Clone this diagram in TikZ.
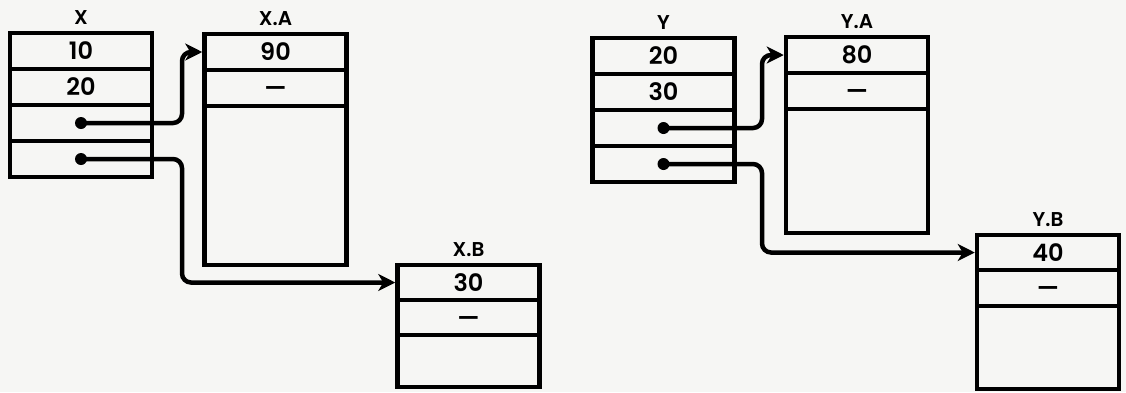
\documentclass[tikz,border=0pt]{standalone}
\usepackage{fontspec}
\setmainfont{Poppins}[BoldFont={Poppins SemiBold}]
\usetikzlibrary{arrows.meta,positioning}
\definecolor{paper}{RGB}{246,246,244}
\tikzset{
  cell/.style={draw, line width=4.5pt, minimum width=142pt, inner sep=0pt,
    text height=17pt, text depth=0pt,
    font=\fontsize{24}{24}\selectfont\bfseries},
  lbl/.style={font=\fontsize{20}{20}\selectfont\bfseries, inner sep=1pt},
  ptr/.style={line width=4.5pt, rounded corners=9pt,
    -{Stealth[length=17pt,width=17pt,inset=5pt]}},
  dot/.style={fill, circle, inner sep=0pt, minimum size=12pt}
}
\begin{document}
\begin{tikzpicture}[x=1pt,y=-1pt]
\fill[paper] (0,0) rectangle (1126,392);
\useasboundingbox (0,0) rectangle (1126,392);
% record X
\node[cell, minimum height=36pt] (x1) at (81,51) {10};
\node[cell, minimum height=36pt] (x2) at (81,87) {20};
\node[cell, minimum height=36pt] (x3) at (81,123) {};
\node[cell, minimum height=36pt] (x4) at (81,159) {};
\node[lbl, above=5pt of x1] (xlbl) {X};
% record X.A
\node[cell, minimum height=36pt] (xa1) at (275.5,52) {90};
\node[cell, minimum height=36pt] (xa2) at (275.5,88) {—};
\node[cell, minimum height=159pt] (xa3) at (275.5,185.5) {};
\node[lbl, above=5pt of xa1] (xalbl) {X.A};
% record X.B
\node[cell, minimum height=35pt] (xb1) at (468.5,282.5) {30};
\node[cell, minimum height=35pt] (xb2) at (468.5,317.5) {—};
\node[cell, minimum height=52pt] (xb3) at (468.5,361) {};
\node[lbl, above=5pt of xb1] (xblbl) {X.B};
% record Y
\node[cell, minimum height=36pt] (y1) at (663.5,56) {20};
\node[cell, minimum height=36pt] (y2) at (663.5,92) {30};
\node[cell, minimum height=36pt] (y3) at (663.5,128) {};
\node[cell, minimum height=36pt] (y4) at (663.5,164) {};
\node[lbl, above=5pt of y1] (ylbl) {Y};
% record Y.A
\node[cell, minimum height=36pt] (ya1) at (857,55) {80};
\node[cell, minimum height=36pt] (ya2) at (857,91) {—};
\node[cell, minimum height=124pt] (ya3) at (857,171) {};
\node[lbl, above=5pt of ya1] (yalbl) {Y.A};
% record Y.B
\node[cell, minimum height=35pt] (yb1) at (1048,252.5) {40};
\node[cell, minimum height=36pt] (yb2) at (1048,288) {—};
\node[cell, minimum height=83pt] (yb3) at (1048,347.5) {};
\node[lbl, above=5pt of yb1] (yblbl) {Y.B};
% pointers
\node[dot] (xp1) at (x3.center) {};
\node[dot] (xp2) at (x4.center) {};
\node[dot] (yp1) at (y3.center) {};
\node[dot] (yp2) at (y4.center) {};
\coordinate (xbend) at (182,0);
\coordinate (ybend) at (762,0);
\draw[ptr] (xp1.center) -| (xbend |- xa1.west) -- (xa1.west);
\draw[ptr] (xp2.center) -| (xbend |- xb1.west) -- (xb1.west);
\draw[ptr] (yp1.center) -| (ybend |- ya1.west) -- (ya1.west);
\draw[ptr] (yp2.center) -| (ybend |- yb1.west) -- (yb1.west);
\end{tikzpicture}
\end{document}
